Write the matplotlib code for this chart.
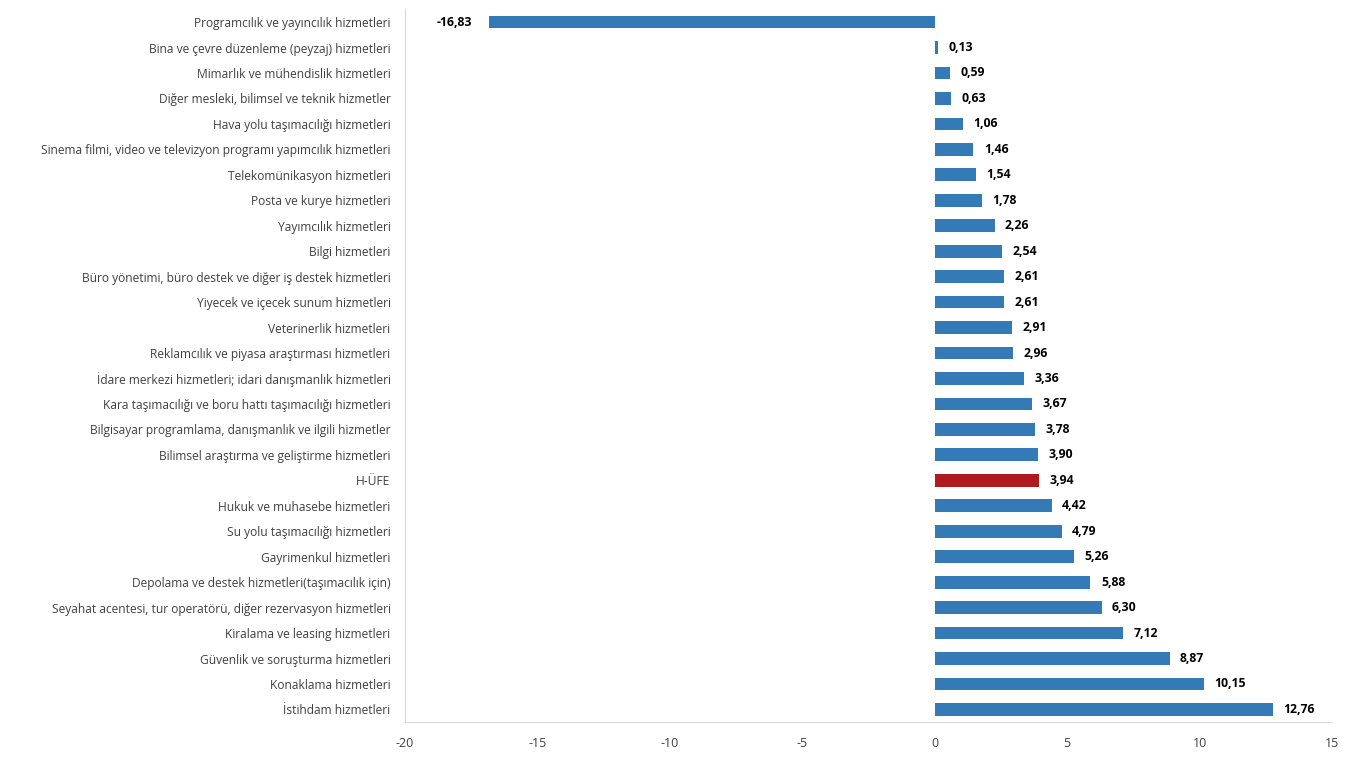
import matplotlib.pyplot as plt

categories = [
    "Programcılık ve yayıncılık hizmetleri",
    "Bina ve çevre düzenleme (peyzaj) hizmetleri",
    "Mimarlık ve mühendislik hizmetleri",
    "Diğer mesleki, bilimsel ve teknik hizmetler",
    "Hava yolu taşımacılığı hizmetleri",
    "Sinema filmi, video ve televizyon programı yapımcılık hizmetleri",
    "Telekomünikasyon hizmetleri",
    "Posta ve kurye hizmetleri",
    "Yayımcılık hizmetleri",
    "Bilgi hizmetleri",
    "Büro yönetimi, büro destek ve diğer iş destek hizmetleri",
    "Yiyecek ve içecek sunum hizmetleri",
    "Veterinerlik hizmetleri",
    "Reklamcılık ve piyasa araştırması hizmetleri",
    "İdare merkezi hizmetleri; idari danışmanlık hizmetleri",
    "Kara taşımacılığı ve boru hattı taşımacılığı hizmetleri",
    "Bilgisayar programlama, danışmanlık ve ilgili hizmetler",
    "Bilimsel araştırma ve geliştirme hizmetleri",
    "H-ÜFE",
    "Hukuk ve muhasebe hizmetleri",
    "Su yolu taşımacılığı hizmetleri",
    "Gayrimenkul hizmetleri",
    "Depolama ve destek hizmetleri(taşımacılık için)",
    "Seyahat acentesi, tur operatörü, diğer rezervasyon hizmetleri",
    "Kiralama ve leasing hizmetleri",
    "Güvenlik ve soruşturma hizmetleri",
    "Konaklama hizmetleri",
    "İstihdam hizmetleri",
]
values = [-16.83, 0.13, 0.59, 0.63, 1.06, 1.46, 1.54, 1.78, 2.26, 2.54, 2.61,
          2.61, 2.91, 2.96, 3.36, 3.67, 3.78, 3.90, 3.94, 4.42, 4.79, 5.26,
          5.88, 6.30, 7.12, 8.87, 10.15, 12.76]
highlight = "H-ÜFE"
xticks = [-20, -15, -10, -5, 0, 5, 10, 15]

plt.rcParams["font.family"] = ["Open Sans", "DejaVu Sans"]

fig = plt.figure(figsize=(13.56, 7.57), dpi=100)
ax = fig.add_axes([0.2987, 0.046, 0.6836, 0.9417])

n = len(categories)
ypos = [n - 1 - i for i in range(n)]
colors = ["#AE1A1F" if c == highlight else "#337AB7" for c in categories]
ax.barh(ypos, values, height=0.5, color=colors)

# value labels, comma as decimal separator
for y, v in zip(ypos, values):
    txt = f"{v:.2f}".replace(".", ",")
    if v >= 0:
        ax.annotate(txt, (v, y), xytext=(7.5, 0), textcoords="offset points",
                    ha="left", va="center", fontsize=8.8, fontweight="bold")
    else:
        ax.annotate(txt, (v, y), xytext=(-12, 0), textcoords="offset points",
                    ha="right", va="center", fontsize=8.8, fontweight="bold")

ax.set_xlim(-20, 15)
ax.set_ylim(-0.5, n - 0.5)
ax.set_xticks(xticks)
ax.set_xticklabels([str(t) for t in xticks], fontsize=9, color="#404040")
ax.set_yticks(ypos)
ax.set_yticklabels(categories, fontsize=8.65, color="#404040")
ax.tick_params(axis="both", length=0)
ax.tick_params(axis="y", pad=10.5)
ax.tick_params(axis="x", pad=10.5)

for s in ["top", "right"]:
    ax.spines[s].set_visible(False)
ax.spines["left"].set_color("#D9D9D9")
ax.spines["bottom"].set_color("#D9D9D9")

fig.savefig("out.png", dpi=100)
